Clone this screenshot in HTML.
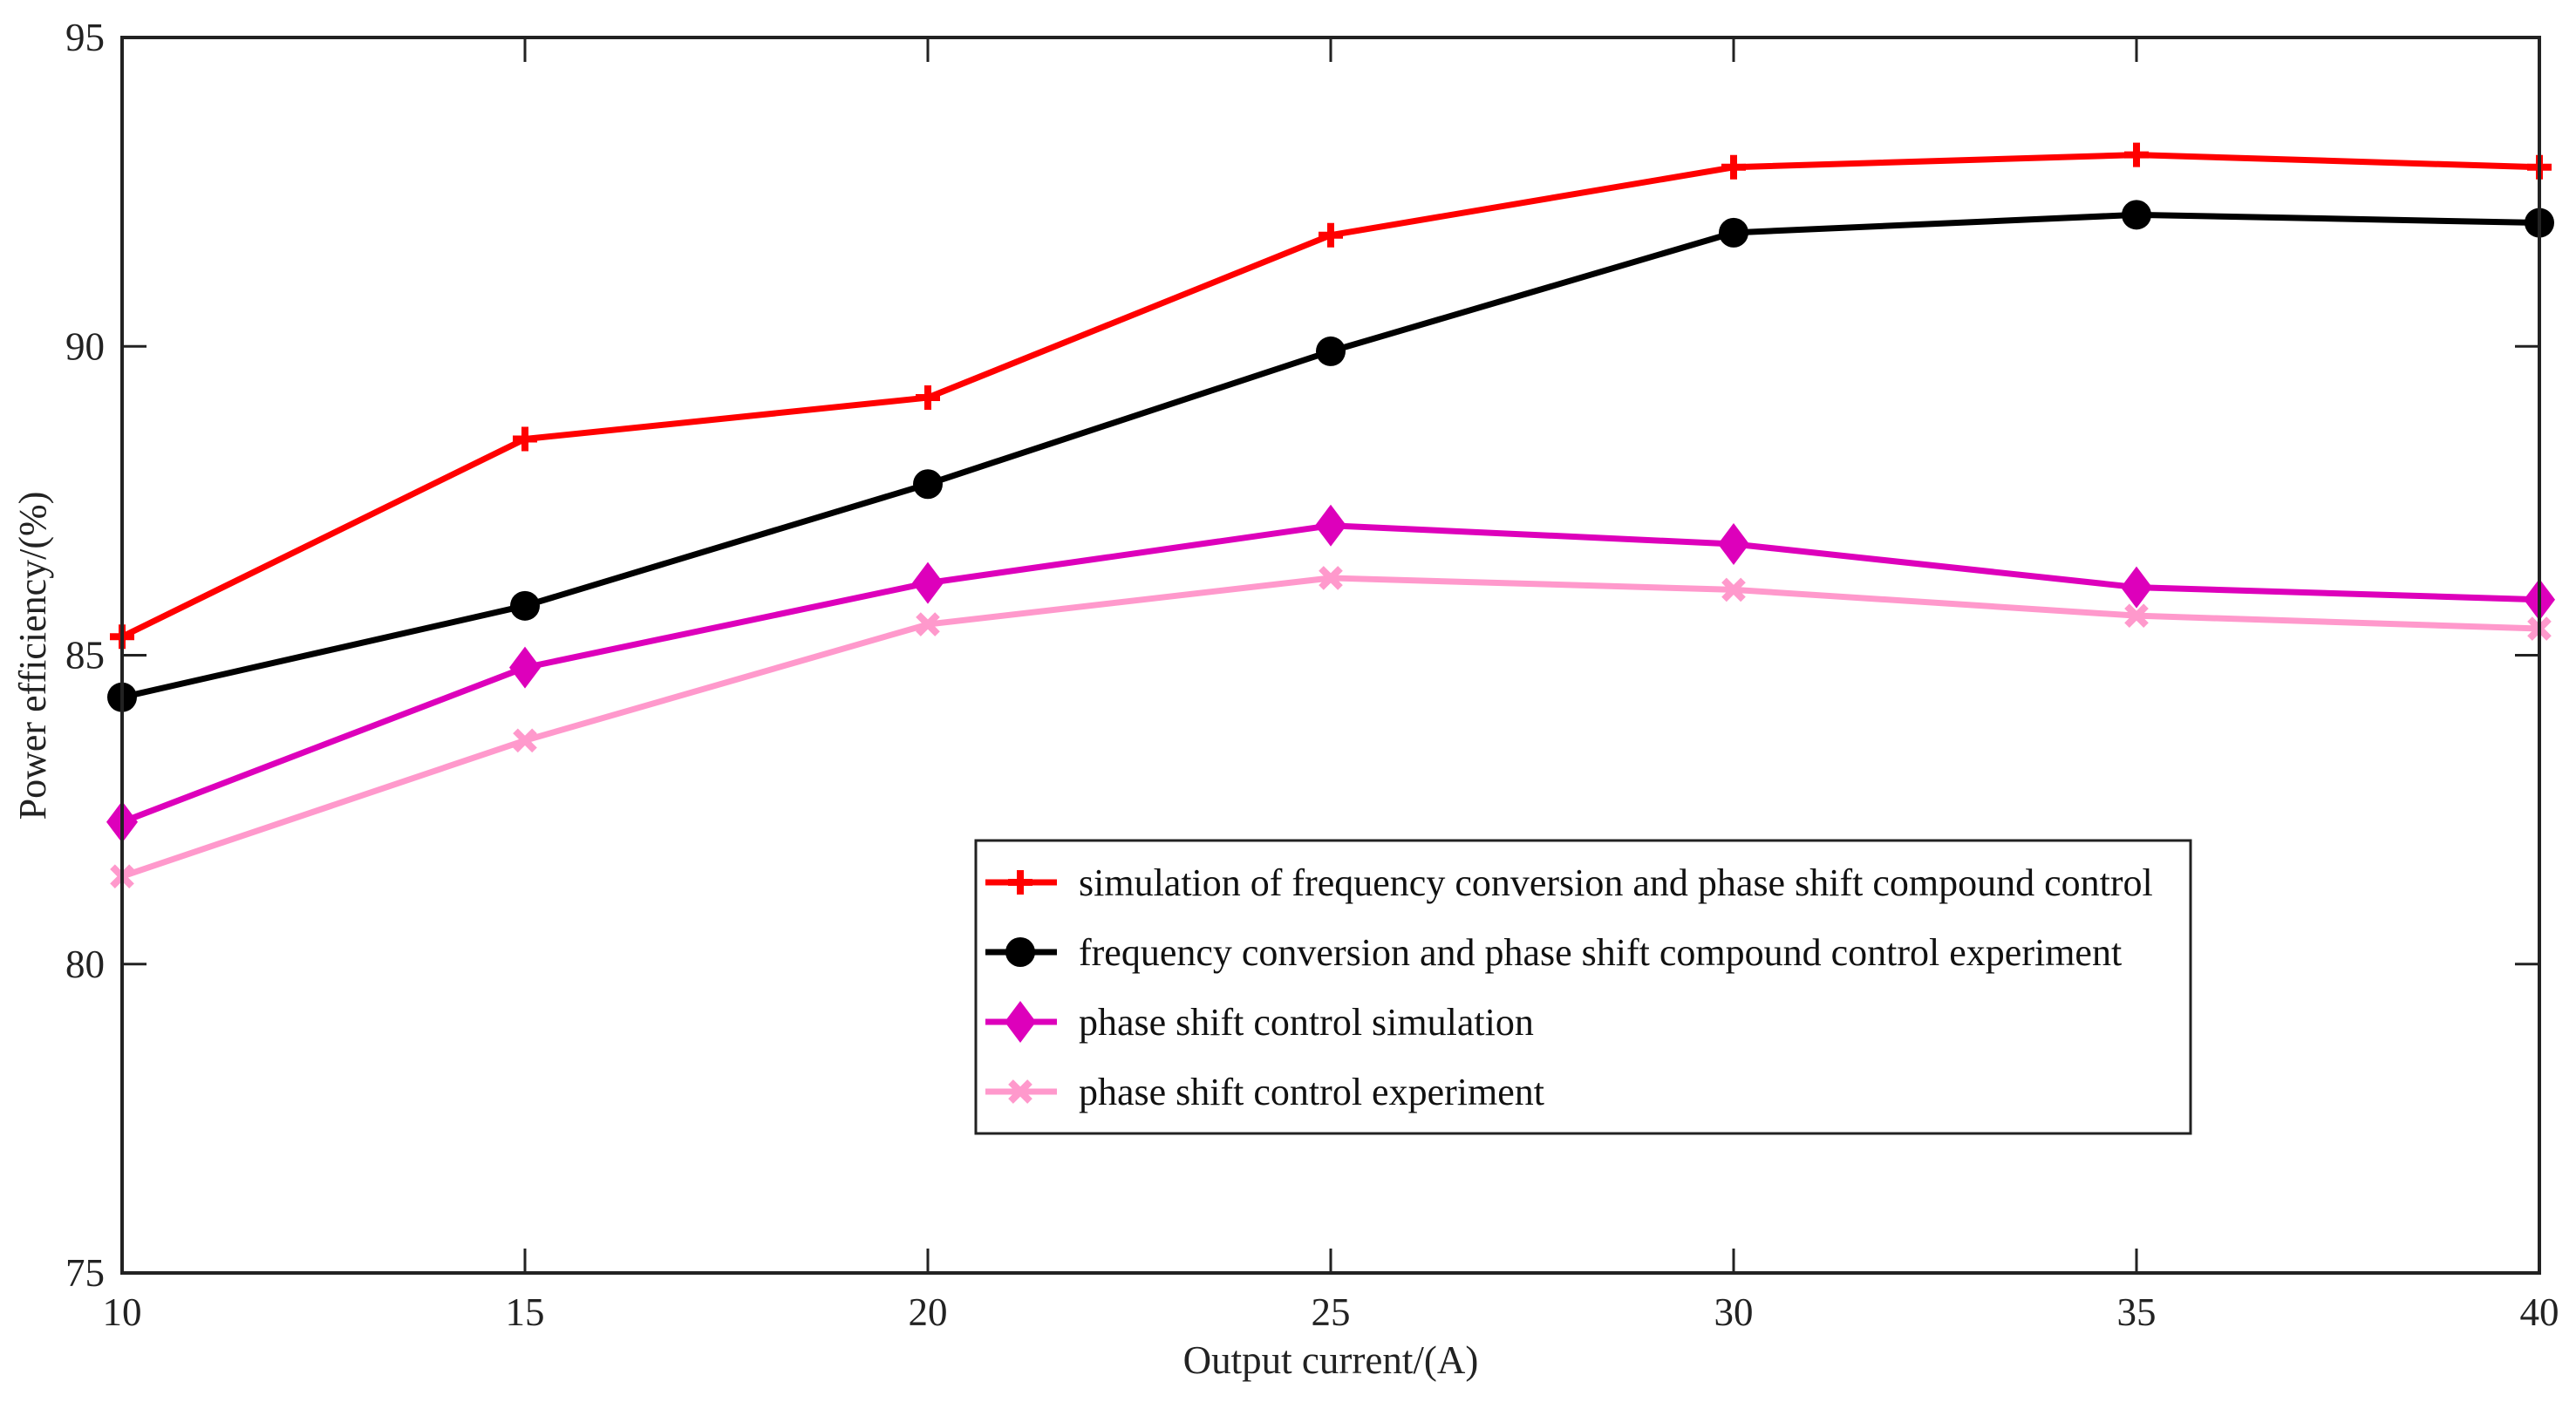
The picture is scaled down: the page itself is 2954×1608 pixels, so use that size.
<!DOCTYPE html>
<html><head><meta charset="utf-8"><style>
html,body{margin:0;padding:0;background:#fff;}
svg{display:block;font-family:"Liberation Serif",serif;}
</style></head><body>
<svg id="chart" width="2954" height="1608" viewBox="0 0 2954 1608">
<rect x="0" y="0" width="2954" height="1608" fill="#fff"/>
<g id="series"></g>
<rect x="140" y="43" width="2772" height="1417" fill="none" stroke="#222" stroke-width="4"/>
<g id="ticks"></g>
<text x="1526" y="1575" font-size="45" text-anchor="middle" fill="#222">Output current/(A)</text>
<text transform="translate(52,752) rotate(-90)" font-size="44" text-anchor="middle" fill="#222">Power efficiency/(%)</text>
<g id="legend">
<rect x="1119" y="964" width="1393" height="336" fill="#fff" stroke="#222" stroke-width="3"/>
</g>
</svg>
<script>
const categories=[10,15,20,25,30,35,40];
const simCompound=[85.3,88.5,89.17,91.8,92.9,93.1,92.9];
const expCompound=[84.32,85.8,87.77,89.92,91.84,92.13,92.0];
const simPhase=[82.3,84.8,86.17,87.1,86.8,86.1,85.9];
const expPhase=[81.42,83.62,85.5,86.25,86.06,85.64,85.43];
const xTicks=[10,15,20,25,30,35,40];
const yTicks=[75,80,85,90,95];
const legendLabels=["simulation of frequency conversion and phase shift compound control","frequency conversion and phase shift compound control experiment","phase shift control simulation","phase shift control experiment"];

const NS="http://www.w3.org/2000/svg";
const L=140,R=2912,T=43,B=1460;
const xs=v=>L+(v-10)/(40-10)*(R-L);
const ys=v=>B-(v-75)/(95-75)*(B-T);
function mk(tag,attrs,parent){const e=document.createElementNS(NS,tag);for(const k in attrs)e.setAttribute(k,attrs[k]);parent.appendChild(e);return e;}
const tk=document.getElementById('ticks');
xTicks.forEach(v=>{
  const x=xs(v);
  const l=mk('line',{x1:x,y1:B,x2:x,y2:B-28,stroke:'#222','stroke-width':3},tk);
  
  
  const l2=mk('line',{x1:x,y1:T,x2:x,y2:T+28,stroke:'#222','stroke-width':3},tk);
  
  
  const t=mk('text',{x:x,y:B+60,'font-size':45,'text-anchor':'middle',fill:'#222'},tk);
  t.textContent=v;
  
  
});
yTicks.forEach(v=>{
  const y=ys(v);
  const l=mk('line',{x1:L,y1:y,x2:L+28,y2:y,stroke:'#222','stroke-width':3},tk);
  
  
  const l2=mk('line',{x1:R,y1:y,x2:R-28,y2:y,stroke:'#222','stroke-width':3},tk);
  
  
  const t=mk('text',{x:L-20,y:y+15,'font-size':45,'text-anchor':'end',fill:'#222'},tk);
  t.textContent=v;
  
  
});
function marker(type,x,y,color,parent){
  let e;
  if(type==='plus'){
    e=mk('path',{d:`M${x-14},${y}H${x+14}M${x},${y-14}V${y+14}`,stroke:color,'stroke-width':8,fill:'none'},parent);
  }else if(type==='circle'){
    e=mk('circle',{cx:x,cy:y,r:17,fill:color},parent);
  }else if(type==='diamond'){
    e=mk('path',{d:`M${x},${y-24}L${x+18},${y}L${x},${y+24}L${x-18},${y}Z`,fill:color},parent);
  }else{
    e=mk('path',{d:`M${x-11},${y-11}L${x+11},${y+11}M${x+11},${y-11}L${x-11},${y+11}`,stroke:color,'stroke-width':8,fill:'none'},parent);
  }
  return e;
}
const seriesDefs=[[simCompound,'#ff0000','plus','sim-compound'],[expCompound,'#000000','circle','exp-compound'],[simPhase,'#dd00bb','diamond','sim-phase'],[expPhase,'#ff99cc','x','exp-phase']];
const sg=document.getElementById('series');
seriesDefs.slice().reverse().forEach(([data,color,type,name])=>{
  const g=mk('g',{},sg);
  
  
  const pts=data.map((v,i)=>xs(categories[i])+','+ys(v)).join(' ');
  const pl=mk('polyline',{points:pts,fill:'none',stroke:color,'stroke-width':7,'stroke-linejoin':'round'},g);
  
  
  data.forEach((v,i)=>{
    const m=marker(type,xs(categories[i]),ys(v),color,g);
    
    
  });
});
const lg=document.getElementById('legend');
seriesDefs.forEach(([data,color,type,name],i)=>{
  const y=1012+i*80;
  const g=mk('g',{},lg);
  
  
  mk('line',{x1:1130,y1:y,x2:1212,y2:y,stroke:color,'stroke-width':7},g);
  marker(type,1170,y,color,g);
  const t=mk('text',{x:1237,y:y+15,'font-size':44,fill:'#111'},g);
  t.textContent=legendLabels[i];
});
</script>
</body></html>
